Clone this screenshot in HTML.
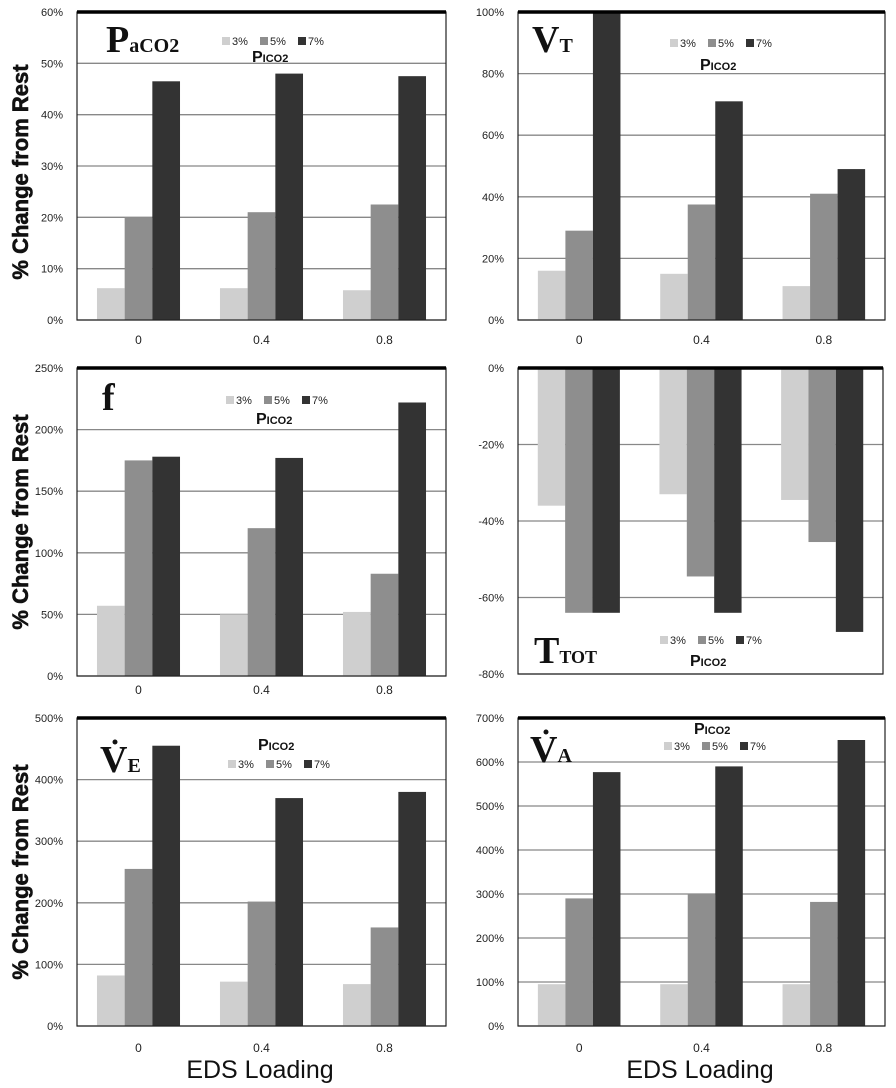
<!DOCTYPE html>
<html><head><meta charset="utf-8"><style>
body{margin:0;background:#fff;width:896px;height:1088px;overflow:hidden;font-family:"Liberation Sans",sans-serif}
svg{display:block}
</style></head><body>
<svg id="c" width="896" height="1088"></svg>
<script>
const categories=["0","0.4","0.8"];
const seriesNames=["3%","5%","7%"];
const paco2_3=[6.2,6.2,5.8], paco2_5=[20,21,22.5], paco2_7=[46.5,48,47.5];
const vt_3=[16,15,11], vt_5=[29,37.5,41], vt_7=[100,71,49];
const f_3=[57,50,52], f_5=[175,120,83], f_7=[178,177,222];
const ttot_3=[-36,-33,-34.5], ttot_5=[-64,-54.5,-45.5], ttot_7=[-64,-64,-69];
const ve_3=[82,72,68], ve_5=[255,202,160], ve_7=[455,370,380];
const va_3=[95,95,95], va_5=[290,300,282], va_7=[577,590,650];
const ticksPaco2=[0,10,20,30,40,50,60];
const ticksVt=[0,20,40,60,80,100];
const ticksF=[0,50,100,150,200,250];
const ticksTtot=[-80,-60,-40,-20,0];
const ticksVe=[0,100,200,300,400,500];
const ticksVa=[0,100,200,300,400,500,600,700];
const colors=["#cfcfcf","#8e8e8e","#333"];
const NS="http://www.w3.org/2000/svg";
const svg=document.getElementById('c');
function mk(tag,attrs,parent){const e=document.createElementNS(NS,tag);for(const k in attrs)e.setAttribute(k,attrs[k]);(parent||svg).appendChild(e);return e;}
function panel(o){
  const g=mk('g',{});
  
  
  const min=o.ticks[0],max=o.ticks[o.ticks.length-1];
  const y=v=>o.y1-(v-min)/(max-min)*(o.y1-o.y0);
  const cw=(o.x1-o.x0)/categories.length;
  o.ticks.forEach(t=>{
    const ln=mk('line',{x1:o.x0,x2:o.x1,y1:y(t),y2:y(t),stroke:'#888','stroke-width':1.3},g);
    
    
    const tx=mk('text',{x:o.x0-14,y:y(t)+4,'text-anchor':'end','font-size':11,fill:'#222'},g);
    tx.textContent=t+'%';
    
    
  });
  const bw=cw*0.225;
  o.series.forEach((s,si)=>{
    s.forEach((v,ci)=>{
      const cx=o.x0+cw*(ci+0.5);
      const bx=cx-1.5*bw+si*bw;
      const y0=y(0),yv=y(v);
      const r=mk('rect',{x:bx,y:Math.min(y0,yv),width:bw,height:Math.abs(y0-yv),fill:colors[si]},g);
      
      
    });
  });
  const bd=mk('rect',{x:o.x0,y:o.y0,width:o.x1-o.x0,height:o.y1-o.y0,fill:'none',stroke:'#222','stroke-width':1.2},g);
  
  
  mk('line',{x1:o.x0,x2:o.x1,y1:o.y0,y2:o.y0,stroke:'#000','stroke-width':3.5},g);
  if(o.catY){
    categories.forEach((c,ci)=>{
      const t=mk('text',{x:o.x0+cw*(ci+0.5),y:o.catY,'text-anchor':'middle','font-size':12,fill:'#222'},g);
      t.textContent=c;
      
      
    });
  }
  const tt=mk('text',{x:o.tx,y:o.ty,'font-family':'Liberation Serif, serif','font-weight':'bold','font-size':38,fill:'#111'},g);
  tt.innerHTML=o.title;
  
  
  const lg=mk('g',{},g);
  
  
  seriesNames.forEach((n,i)=>{
    mk('rect',{x:o.lx+i*38,y:o.ly-8,width:8,height:8,fill:colors[i]},lg);
    const t=mk('text',{x:o.lx+i*38+10,y:o.ly,'font-size':11,fill:'#222'},lg);
    t.textContent=n;
    
    
  });
  const pt=mk('text',{x:o.lx+30,y:o.py,'font-size':16,'font-weight':'bold',fill:'#111'},lg);
  pt.innerHTML='P<tspan font-size="11">ICO2</tspan>';
  
  
}
panel({name:'paco2',x0:77,x1:446,y0:12,y1:320,ticks:ticksPaco2,series:[paco2_3,paco2_5,paco2_7],catY:344,title:'P<tspan font-size="20">aCO2</tspan>',tx:106,ty:52,lx:222,ly:45,py:62});
panel({name:'vt',x0:518,x1:885,y0:12,y1:320,ticks:ticksVt,series:[vt_3,vt_5,vt_7],catY:344,title:'V<tspan font-size="20">T</tspan>',tx:532,ty:52,lx:670,ly:47,py:70});
panel({name:'f',x0:77,x1:446,y0:368,y1:676,ticks:ticksF,series:[f_3,f_5,f_7],catY:694,title:'f',tx:102,ty:410,lx:226,ly:404,py:424});
panel({name:'ttot',x0:518,x1:883,y0:368,y1:674,ticks:ticksTtot,series:[ttot_3,ttot_5,ttot_7],catY:null,title:'T<tspan font-size="18">TOT</tspan>',tx:534,ty:663,lx:660,ly:644,py:666});
panel({name:'ve',x0:77,x1:446,y0:718,y1:1026,ticks:ticksVe,series:[ve_3,ve_5,ve_7],catY:1052,title:'V<tspan font-size="20">E</tspan>',tx:100,ty:772,lx:228,ly:768,py:750});
panel({name:'va',x0:518,x1:885,y0:718,y1:1026,ticks:ticksVa,series:[va_3,va_5,va_7],catY:1052,title:'V<tspan font-size="20">A</tspan>',tx:530,ty:762,lx:664,ly:750,py:734});
[[115,742],[546,732]].forEach(p=>{const d=mk('circle',{cx:p[0],cy:p[1],r:2.5,fill:'#111'});});
[172,522,872].forEach(cy=>{
  const t=mk('text',{x:0,y:0,transform:`translate(28,${cy}) rotate(-90)`,'text-anchor':'middle','font-size':22,'font-weight':'bold',fill:'#111','stroke':'#111','stroke-width':0.6});
  t.textContent='% Change from Rest';
  
  
});
[[260,1078],[700,1078]].forEach(p=>{
  const t=mk('text',{x:p[0],y:p[1],'text-anchor':'middle','font-size':25,fill:'#111'});
  t.textContent='EDS Loading';
  
  
});
</script>
</body></html>
